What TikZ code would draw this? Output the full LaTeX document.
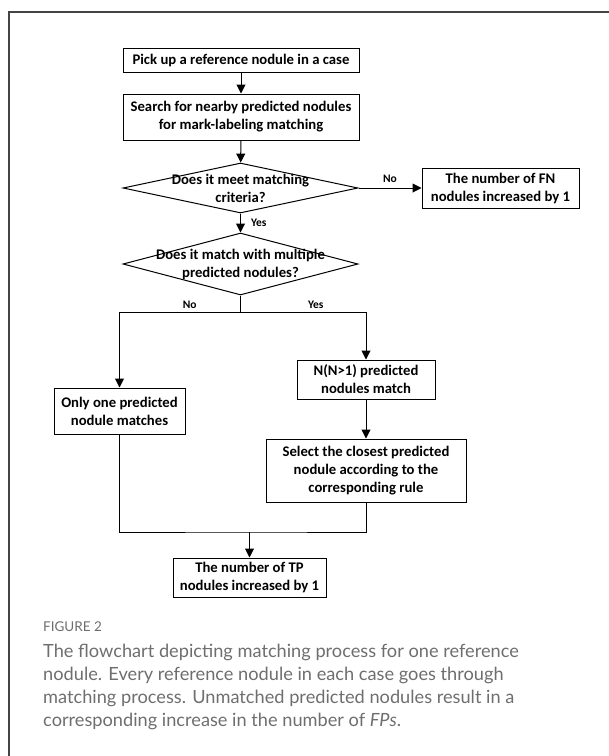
\documentclass[tikz,border=0pt]{standalone}
\usepackage{fontspec}
\setmainfont{Carlito}
\newfontfamily\capfont{Lato}
\usetikzlibrary{arrows.meta, positioning, calc, shapes.geometric}
\definecolor{framegray}{HTML}{444444}
\definecolor{capgray}{HTML}{6E6E6E}
\tikzset{
  stepbox/.style={rectangle, draw=black, line width=1pt, inner sep=1pt,
                  align=center, font=\fontsize{14.7}{18}\selectfont\bfseries},
  decision/.style={diamond, draw=black, line width=1pt, inner sep=0pt},
  dtext/.style={align=center, inner sep=0pt, font=\fontsize{14.7}{18}\selectfont\bfseries},
  lbl/.style={font=\fontsize{11.5}{13}\selectfont\bfseries, inner sep=1pt},
  arr/.style={-{Triangle[length=9pt, width=9pt]}, line width=1pt},
  line/.style={line width=1pt},
}

\begin{document}
\begin{tikzpicture}[x=1pt, y=1pt]
  \useasboundingbox (0,0) rectangle (609,-756);

  % Frame — open to the right and bottom
  \draw[framegray, line width=1.6pt] (9,-756) -- (9,-12) -- (609,-12);

  % Top of the chain
  \node[stepbox, minimum width=236pt, minimum height=24pt]
    (pick) at (241, -60) {Pick up a reference nodule in a case};
  \node[stepbox, minimum width=236pt, minimum height=46pt]
    (search) at (241, -117) {Search for nearby predicted nodules\\for mark-labeling matching};

  % Decisions
  \node[decision, minimum width=235pt, minimum height=50pt,
        label={[dtext]center:Does it meet matching\\criteria?}]
    (crit) at (240.5, -188) {};
  \node[stepbox, minimum width=157pt, minimum height=40pt]
    (fn) at (500.5, -188) {The number of FN\\nodules increased by 1};
  \node[decision, minimum width=235pt, minimum height=62pt,
        label={[dtext]center:Does it match with multiple\\predicted nodules?}]
    (multi) at (240.5, -264) {};

  % Two branches
  \node[stepbox, minimum width=131pt, minimum height=46pt]
    (only) at (119.5, -411) {Only one predicted\\nodule matches};
  \node[stepbox, minimum width=138pt, minimum height=39pt]
    (nmatch) at (366, -379.5) {N(N>1) predicted\\nodules match};
  \node[stepbox, minimum width=200pt, minimum height=63pt]
    (select) at (366, -470.5) {Select the closest predicted\\nodule according to the\\corresponding rule};

  % Result
  \node[stepbox, minimum width=153pt, minimum height=39pt]
    (tp) at (249.5, -577.5) {The number of TP\\nodules increased by 1};

  \coordinate (split) at (240.5, -312);
  \coordinate (join) at (249.5, -532);

  % Arrows
  \draw[arr] (pick) -- (search);
  \draw[arr] (search) -- (crit);
  \draw[arr] (crit.east) -- node[above=4pt, lbl] {No} (fn.west);
  \draw[arr] (crit.south) -- node[right=9pt, lbl] {Yes} (multi.north);
  \draw[line] (multi.south) -- (split);
  \draw[arr] (split) -| node[pos=0.21, above=2pt, lbl] {No} (only.north);
  \draw[arr] (split) -| node[pos=0.3, above=2pt, lbl] {Yes} (nmatch.north);
  \draw[arr] (nmatch) -- (select);
  \draw[line] (only.south) |- (join) -| (select.south);
  \draw[arr] (join) -- (tp.north);

  % Caption — base anchor sits on the last line
  \node[anchor=base west, inner sep=0pt, text=capgray, font=\capfont\fontsize{13.5}{15}\selectfont]
    (figno) at (43, -631) {FIGURE 2};
  \node[anchor=base west, inner sep=0pt, align=left, text=capgray,
        font=\capfont\fontsize{18.2}{23}\selectfont]
    (caption) at (43, -726.5) {The flowchart depicting matching process for one reference\\
             nodule. Every reference nodule in each case goes through\\
             matching process. Unmatched predicted nodules result in a\\
             corresponding increase in the number of \textit{FPs}.};
\end{tikzpicture}
\end{document}
